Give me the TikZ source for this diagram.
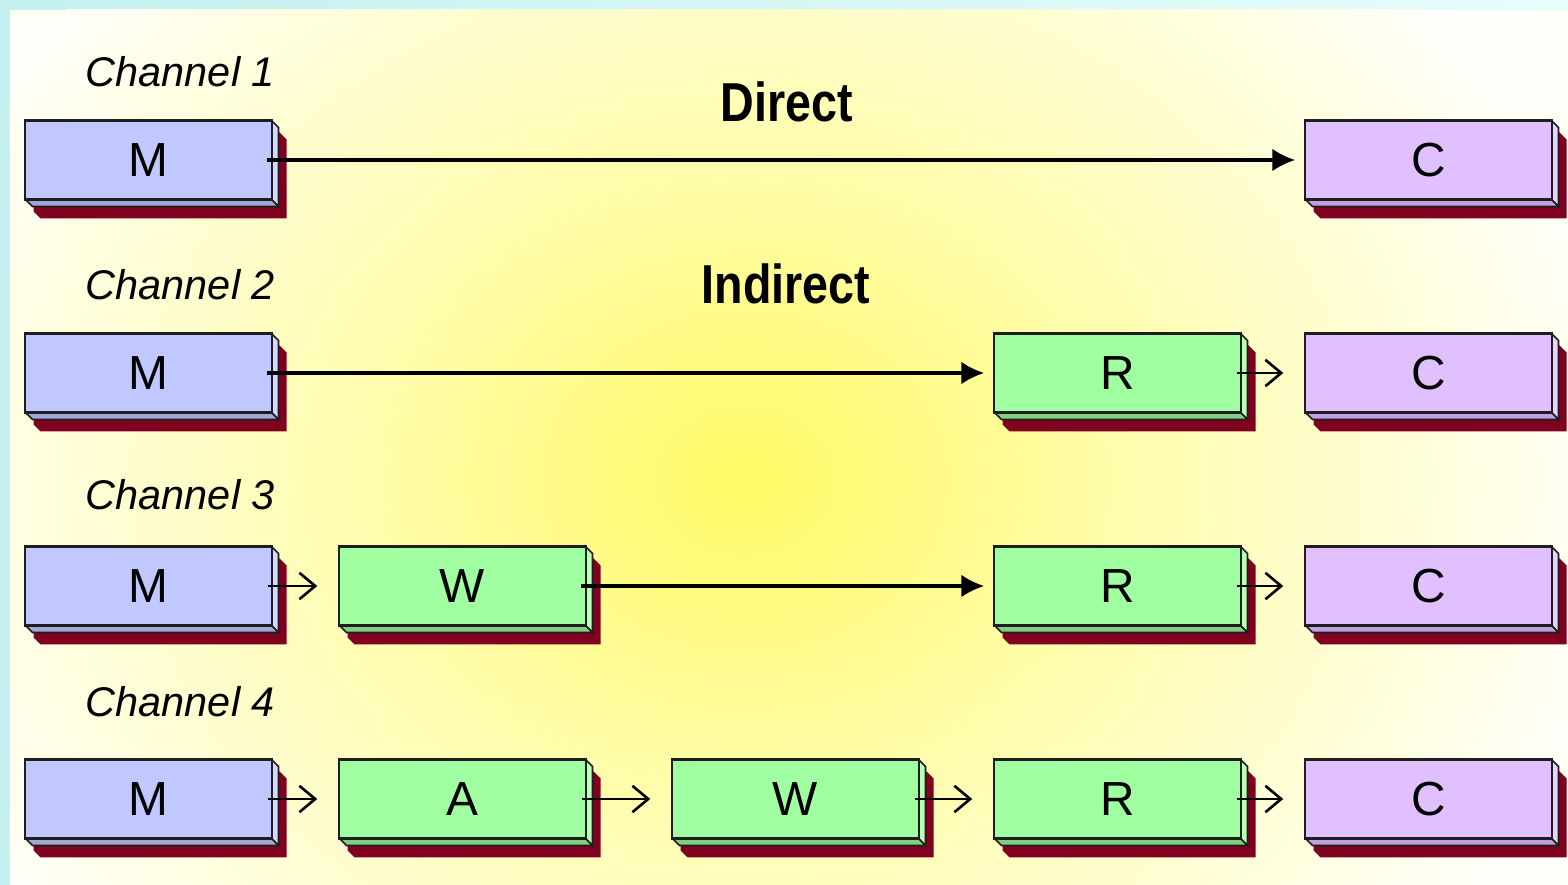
\documentclass[tikz,border=0pt]{standalone}
\usepackage{fontspec}
\setmainfont{Liberation Sans}
\usetikzlibrary{arrows.meta}

% page and glow
\definecolor{frameL}{RGB}{196,240,240}
\definecolor{frameR}{RGB}{232,252,252}
\definecolor{paper}{RGB}{255,255,250}
\definecolor{glowcore}{RGB}{255,250,100}
\definecolor{glowmid}{RGB}{255,252,168}
% box faces
\definecolor{Mfront}{RGB}{192,200,255}
\definecolor{Mside}{RGB}{212,216,255}
\definecolor{Mbot}{RGB}{160,168,216}
\definecolor{Gfront}{RGB}{160,255,160}
\definecolor{Gside}{RGB}{184,255,184}
\definecolor{Gbot}{RGB}{128,208,128}
\definecolor{Pfront}{RGB}{224,192,255}
\definecolor{Pside}{RGB}{234,210,255}
\definecolor{Pbot}{RGB}{192,160,224}
\definecolor{shadowred}{RGB}{128,0,32}
\definecolor{edge}{RGB}{30,30,30}

\pgfdeclareradialshading{glow}{\pgfpoint{0bp}{0bp}}{color(0bp)=(glowcore); color(10bp)=(glowmid); color(25bp)=(paper); color(50bp)=(paper)}

\tikzset{
	boxshadow/.style={fill=shadowred},
	face/.style={draw=edge,line width=0.45pt},
	front/.style={draw=edge,line width=0.6pt,inner sep=0pt,minimum width=2.46cm,minimum height=0.79cm,font=\fontsize{13.6}{13.6}\selectfont},
	chlabel/.style={anchor=west,inner sep=0pt,font=\fontsize{11.8}{11.8}\selectfont\itshape},
	kind/.style={font=\fontsize{15.6}{15.6}\selectfont\bfseries},
	link/.style={line width=1.05pt,shorten <=-1.5pt,shorten >=2.6pt,-{Latex[length=6.5pt,width=6.5pt]}},
	hop/.style={line width=0.75pt,shorten <=-1.4pt,shorten >=6pt,-{Straight Barb[length=4.5pt,width=7.5pt]}}
}

% #1 name, #2,#3 centre, #4 letter, #5 colour prefix (M, G or P)
\newcommand{\flowbox}[5]{%
	\fill[boxshadow] (#2-115,#3-27.5) -- (#2+131,#3-27.5) -- (#2+138,#3-20.5) -- (#2+138,#3+58.5) -- (#2-108,#3+58.5) -- (#2-115,#3+51.5) -- cycle;
	\filldraw[face,fill=#5side] (#2+123,#3-39.5) -- (#2+130,#3-32.5) -- (#2+130,#3+46.5) -- (#2+123,#3+39.5) -- cycle;
	\filldraw[face,fill=#5bot] (#2-123,#3+39.5) -- (#2+123,#3+39.5) -- (#2+130,#3+46.5) -- (#2-116,#3+46.5) -- cycle;
	\node[front,fill=#5front] (#1) at (#2,#3) {#4};
}

\begin{document}
\begin{tikzpicture}[x=0.01cm,y=-0.01cm]
	\useasboundingbox (0,0) rectangle (1568,885);
	% background
	\shade[left color=frameL,right color=frameR] (0,0) rectangle (1568,885);
	\fill[paper] (10,10) rectangle (1568,885);
	\begin{scope}
		\clip (10,10) rectangle (1568,885);
		\shade[shading=glow] (745,480) ellipse [x radius=880,y radius=740];
	\end{scope}

	% labels
	\node[chlabel] (ch1) at (85,72) {Channel 1};
	\node[chlabel] (ch2) at (85,285) {Channel 2};
	\node[chlabel] (ch3) at (85,495) {Channel 3};
	\node[chlabel] (ch4) at (85,702) {Channel 4};
	\node[kind] (direct) at (787,102) {\scalebox{0.85}[1]{Direct}};
	\node[kind] (indirect) at (786,284) {\scalebox{0.85}[1]{Indirect}};

	% channel 1
	\flowbox{m1}{148.5}{160}{M}{M}
	\flowbox{c1}{1428.5}{160}{C}{P}
	% channel 2
	\flowbox{m2}{148.5}{373}{M}{M}
	\flowbox{r2}{1117.5}{373}{R}{G}
	\flowbox{c2}{1428.5}{373}{C}{P}
	% channel 3
	\flowbox{m3}{148.5}{586}{M}{M}
	\flowbox{w3}{462.5}{586}{W}{G}
	\flowbox{r3}{1117.5}{586}{R}{G}
	\flowbox{c3}{1428.5}{586}{C}{P}
	% channel 4
	\flowbox{m4}{148.5}{799}{M}{M}
	\flowbox{a4}{462.5}{799}{A}{G}
	\flowbox{w4}{795.5}{799}{W}{G}
	\flowbox{r4}{1117.5}{799}{R}{G}
	\flowbox{c4}{1428.5}{799}{C}{P}

	% connectors
	\draw[link] (m1.east) -- (c1.west);
	\draw[link] (m2.east) -- (r2.west);
	\draw[hop] (r2.east) -- (c2.west);
	\draw[hop] (m3.east) -- (w3.west);
	\draw[link] (w3.east) -- (r3.west);
	\draw[hop] (r3.east) -- (c3.west);
	\draw[hop] (m4.east) -- (a4.west);
	\draw[hop] (a4.east) -- (w4.west);
	\draw[hop] (w4.east) -- (r4.west);
	\draw[hop] (r4.east) -- (c4.west);
\end{tikzpicture}
\end{document}
